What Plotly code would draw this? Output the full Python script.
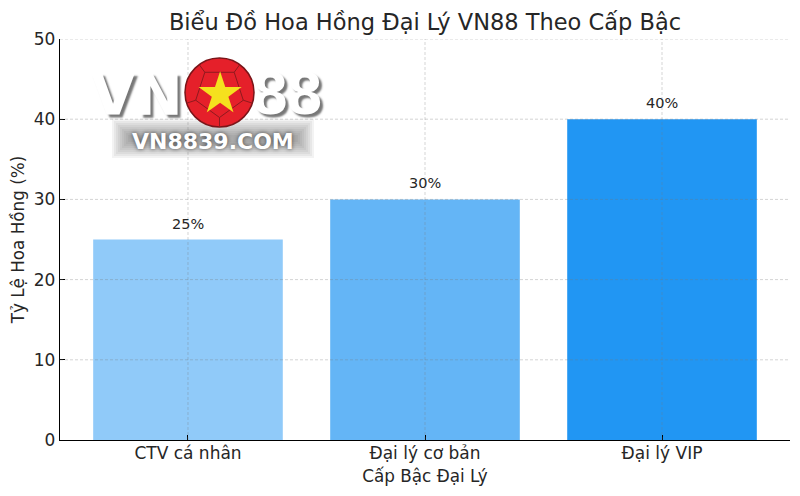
import math
import plotly.graph_objects as go

# data
categories = ["CTV cá nhân", "Đại lý cơ bản", "Đại lý VIP"]
commission = [25, 30, 40]
bar_labels = ["25%", "30%", "40%"]
bar_colors = ["#90CAF9", "#64B5F6", "#2196F3"]
y_ticks = [0, 10, 20, 30, 40, 50]

FONT = "DejaVu Sans"
TEXT = "#262626"
GRID = "rgba(120,120,120,0.4)"

# plot area in page pixels, used for placing the logo
L, R, T, B = 60, 790, 39, 440
PAGE_PAD = 8  # the page body adds this around the figure
W, H = 800 - PAGE_PAD, 496 - PAGE_PAD


def px(x):
    return (x - L) / (R - L)


def py(y):
    return (B - y) / (B - T)


fig = go.Figure()
fig.add_trace(go.Bar(
    x=categories, y=commission, width=0.8, marker=dict(color=bar_colors, line_width=0),
))

shapes = []
# logo backdrop, stacked for a soft edge
for grow in [8, 6, 4, 2, 0, -2, -4, -6, -8]:
    shapes.append(dict(type="rect", xref="paper", yref="paper", layer="above",
                       x0=px(120 - grow), x1=px(306 + grow), y0=py(150 + grow), y1=py(127 - grow),
                       fillcolor="rgba(90,90,90,0.07)", line_width=0))

# grid goes on top of the bars, as in the original
for v in y_ticks[1:]:
    shapes.append(dict(type="line", xref="paper", yref="y", x0=0, x1=1, y0=v, y1=v, layer="above",
                       line=dict(color=GRID, width=0.8, dash="3px,2px")))
for c in categories:
    shapes.append(dict(type="line", xref="x", yref="paper", x0=c, x1=c, y0=0, y1=1, layer="above",
                       line=dict(color=GRID, width=0.8, dash="3px,2px")))

# logo ball
shapes.append(dict(type="circle", xref="paper", yref="paper", layer="above",
                   x0=px(185), x1=px(254), y0=py(127), y1=py(58),
                   fillcolor="#E5202A", line=dict(color="#7A1418", width=1.5)))
for i in range(5):
    a = math.radians(-90 + 36 + 72 * i)
    a2 = math.radians(-90 + 36 + 72 * (i + 1))
    x1, y1 = 219.5 + 25 * math.cos(a), 92.5 + 25 * math.sin(a)
    x2, y2 = 219.5 + 25 * math.cos(a2), 92.5 + 25 * math.sin(a2)
    x3, y3 = 219.5 + 34 * math.cos(a), 92.5 + 34 * math.sin(a)
    for xa, ya, xb, yb in [(x1, y1, x2, y2), (x1, y1, x3, y3)]:
        shapes.append(dict(type="line", xref="paper", yref="paper", layer="above",
                           x0=px(xa), y0=py(ya), x1=px(xb), y1=py(yb),
                           line=dict(color="#8E1A1E", width=1)))

annotations = [
    dict(text="<b>VN</b>", x=px(137), y=py(95), font=dict(family="DejaVu Sans", size=57, color="white",
                                                   shadow="3px 3px 2px #777")),
    dict(text="<b>88</b>", x=px(287), y=py(92), font=dict(family="Liberation Sans", size=62, color="white",
                                                   shadow="3px 3px 2px #777")),
    dict(text="★", x=px(219.5), y=py(92), font=dict(family="DejaVu Sans", size=56, color="#F5E11E")),
    dict(text="<b>VN8839.COM</b>", x=px(213), y=py(141),
         font=dict(family="DejaVu Sans", size=22, color="white", shadow="0px 0px 4px #444")),
]
for a in annotations:
    a.update(xref="paper", yref="paper", showarrow=False, xanchor="center", yanchor="middle")

# value labels above the bars
for c, v, t in zip(categories, commission, bar_labels):
    annotations.append(dict(text=t, x=c, y=v, xref="x", yref="y", showarrow=False, yshift=16,
                            xanchor="center", yanchor="middle",
                            font=dict(family=FONT, size=14.5, color=TEXT)))

fig.update_layout(
    width=W, height=H, autosize=False,
    margin=dict(l=L - PAGE_PAD, r=W - (R - PAGE_PAD), t=T - PAGE_PAD, b=H - (B - PAGE_PAD)),
    paper_bgcolor="white", plot_bgcolor="white",
    showlegend=False,
    font=dict(family=FONT, color=TEXT),
    title=dict(text="Biểu Đồ Hoa Hồng Đại Lý VN88 Theo Cấp Bậc", x=(425 - PAGE_PAD) / W, xanchor="center",
               y=1 - (22 - PAGE_PAD) / H, yanchor="middle", font=dict(family=FONT, size=22.5, color=TEXT)),
    xaxis=dict(
        title=dict(text="Cấp Bậc Đại Lý", font=dict(size=16.8), standoff=8),
        automargin=False,
        range=[-0.54, 2.54], showgrid=False, zeroline=False,
        showline=True, linecolor="black", linewidth=1.3,
        ticks="inside", ticklen=5, tickcolor="black", tickwidth=1,
        tickfont=dict(size=17), ticklabelstandoff=-3,
    ),
    yaxis=dict(
        title=dict(text="Tỷ Lệ Hoa Hồng (%)", font=dict(size=16.8), standoff=6),
        automargin=False,
        range=[0, 50], tickvals=y_ticks, showgrid=False, zeroline=False,
        showline=True, linecolor="black", linewidth=1.3,
        ticks="inside", ticklen=5, tickcolor="black", tickwidth=1,
        tickfont=dict(size=17),
    ),
    shapes=shapes,
    annotations=annotations,
)

fig.write_html("out.html")
